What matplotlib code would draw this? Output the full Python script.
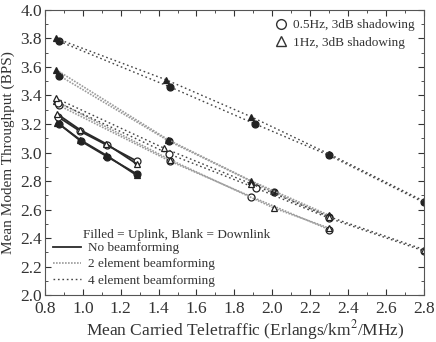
import matplotlib.pyplot as plt
from matplotlib.lines import Line2D
from matplotlib.ticker import MultipleLocator

plt.rcParams['font.family'] = ['Liberation Serif', 'DejaVu Serif']
plt.rcParams['mathtext.fontset'] = 'stix'

# no beamforming
nb_up_05_x = [0.875, 0.99, 1.13, 1.285]
nb_up_05_y = [3.20, 3.08, 2.97, 2.85]
nb_up_1_x = [0.865, 0.985, 1.125, 1.285]
nb_up_1_y = [3.21, 3.09, 2.98, 2.84]
nb_dn_05_x = [0.87, 0.985, 1.13, 1.285]
nb_dn_05_y = [3.25, 3.15, 3.05, 2.94]
nb_dn_1_x = [0.865, 0.985, 1.125, 1.285]
nb_dn_1_y = [3.27, 3.16, 3.06, 2.92]

# 2 element beamforming
b2_up_05_x = [0.875, 1.455, 2.01, 2.3]
b2_up_05_y = [3.54, 3.08, 2.72, 2.55]
b2_up_1_x = [0.86, 1.45, 1.89, 2.3]
b2_up_1_y = [3.58, 3.09, 2.80, 2.56]
b2_dn_05_x = [0.875, 1.46, 1.89, 2.3]
b2_dn_05_y = [3.33, 2.94, 2.69, 2.46]
b2_dn_1_x = [0.86, 1.46, 2.01, 2.3]
b2_dn_1_y = [3.36, 2.95, 2.61, 2.47]

# 4 element beamforming
b4_up_05_x = [0.875, 1.46, 1.91, 2.3, 2.8]
b4_up_05_y = [3.78, 3.46, 3.20, 2.98, 2.65]
b4_up_1_x = [0.86, 1.44, 1.89, 2.3, 2.8]
b4_up_1_y = [3.80, 3.51, 3.25, 2.99, 2.66]
b4_dn_05_x = [0.87, 1.455, 1.915, 2.3, 2.8]
b4_dn_05_y = [3.35, 2.99, 2.75, 2.54, 2.31]
b4_dn_1_x = [0.86, 1.43, 1.89, 2.3, 2.8]
b4_dn_1_y = [3.38, 3.03, 2.78, 2.55, 2.32]

styles = {
    'nb': dict(color='#2a2a2a', linestyle='-', linewidth=1.3),
    'b2': dict(color='#9a9a9a', linestyle=(0, (1, 0.8)), linewidth=1.2),
    'b4': dict(color='#444444', linestyle=(0, (1.2, 2)), linewidth=1.0),
}

series = [
    ('nb', nb_up_05_x, nb_up_05_y, 'o', True),
    ('nb', nb_up_1_x, nb_up_1_y, '^', True),
    ('nb', nb_dn_05_x, nb_dn_05_y, 'o', False),
    ('nb', nb_dn_1_x, nb_dn_1_y, '^', False),
    ('b2', b2_up_05_x, b2_up_05_y, 'o', True),
    ('b2', b2_up_1_x, b2_up_1_y, '^', True),
    ('b2', b2_dn_05_x, b2_dn_05_y, 'o', False),
    ('b2', b2_dn_1_x, b2_dn_1_y, '^', False),
    ('b4', b4_up_05_x, b4_up_05_y, 'o', True),
    ('b4', b4_up_1_x, b4_up_1_y, '^', True),
    ('b4', b4_dn_05_x, b4_dn_05_y, 'o', False),
    ('b4', b4_dn_1_x, b4_dn_1_y, '^', False),
]

fig = plt.figure(figsize=(4.36, 3.42), dpi=100)
ax = fig.add_axes([0.103, 0.137, 0.869, 0.834])

for key, xs, ys, mk, filled in series:
    ax.plot(xs, ys, marker=mk, markersize=5,
            markerfacecolor='#222222' if filled else 'white',
            markeredgecolor='#222222', markeredgewidth=0.9, **styles[key])

ax.set_xlim(0.8, 2.8)
ax.set_ylim(2.0, 4.0)
ax.xaxis.set_major_locator(MultipleLocator(0.2))
ax.xaxis.set_minor_locator(MultipleLocator(0.1))
ax.yaxis.set_major_locator(MultipleLocator(0.2))
ax.yaxis.set_minor_locator(MultipleLocator(0.1))
ax.tick_params(which='both', direction='in', top=True, right=True,
               labelsize=12.5, colors='#333333')
ax.tick_params(which='major', length=4)
ax.tick_params(which='minor', length=2)
ax.tick_params(axis='y', pad=2)
ax.tick_params(axis='x', pad=4.5)
for sp in ax.spines.values():
    sp.set_color('#555555')

ax.set_xlabel('Mean Carried Teletraffic (Erlangs/km$^2$/MHz)', fontsize=12.5,
              color='#333333')
ax.xaxis.set_label_coords(0.53, -0.08)
ax.set_ylabel('Mean Modem Throughput (BPS)', fontsize=11, color='#333333')
ax.yaxis.set_label_coords(-0.078, 0.5)

mk_handles = [
    Line2D([], [], linestyle='none', marker='o', markersize=7,
           markerfacecolor='white', markeredgecolor='#333333'),
    Line2D([], [], linestyle='none', marker='^', markersize=7,
           markerfacecolor='white', markeredgecolor='#333333'),
]
leg1 = ax.legend(mk_handles, ['0.5Hz, 3dB shadowing', '1Hz, 3dB shadowing'],
                 loc='upper right', frameon=False, fontsize=9.5,
                 handletextpad=0.3, handlelength=1.2, borderaxespad=0.3,
                 labelspacing=0.4)
for t in leg1.get_texts():
    t.set_color('#333333')
ax.add_artist(leg1)

ln_handles = [Line2D([], [], **styles[k]) for k in ('nb', 'b2', 'b4')]
leg2 = ax.legend(ln_handles, ['No beamforming', '2 element beamforming',
                              '4 element beamforming'],
                 loc='lower left', frameon=False, fontsize=9.5,
                 handlelength=2.1, handletextpad=0.5,
                 borderaxespad=0.25, labelspacing=0.3)
for t in leg2.get_texts():
    t.set_color('#333333')
ax.text(0.1, 0.21, 'Filled = Uplink, Blank = Downlink', transform=ax.transAxes,
        fontsize=9.5, color='#333333', va='center', ha='left')

fig.savefig('out.png', dpi=100)
